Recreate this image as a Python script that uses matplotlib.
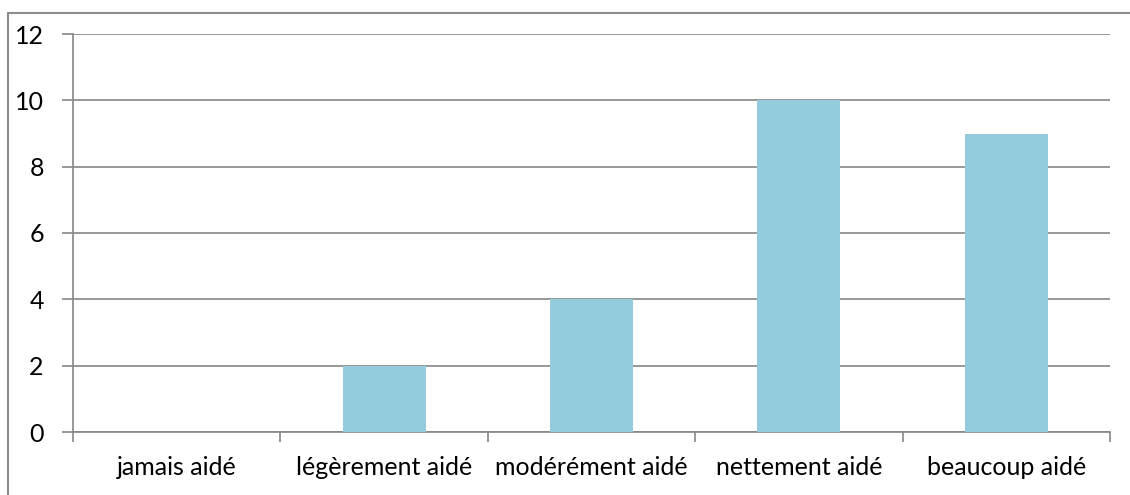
import matplotlib
matplotlib.use("Agg")
import matplotlib.pyplot as plt
from matplotlib.patches import Rectangle

categories = ["jamais aidé", "légèrement aidé", "modérément aidé", "nettement aidé", "beaucoup aidé"]
values = [0, 2, 4, 10, 9]
y_ticks = [0, 2, 4, 6, 8, 10, 12]

plt.rcParams['font.family'] = ['Lato', 'DejaVu Sans']

fig = plt.figure(figsize=(11.3, 4.95), dpi=100)
ax = fig.add_axes([73 / 1130, 1 - 432 / 495, (1110 - 73) / 1130, (432 - 34) / 495])

grid_col = '#868686'
x = list(range(len(categories)))
ax.bar(x, values, width=0.4, color='#93CDDD', zorder=3)

ax.set_xlim(-0.5, len(categories) - 0.5)
ax.set_ylim(0, 12)
ax.set_yticks(y_ticks)
ax.set_xticks(x)
ax.set_xticklabels(categories, fontsize=18)
ax.set_xticks([i - 0.5 for i in range(len(categories) + 1)], minor=True)
ax.tick_params(axis='x', which='major', length=0, pad=17)
ax.tick_params(axis='x', which='minor', length=7, color=grid_col, width=1.2, direction='out')
ax.tick_params(axis='y', length=8, color=grid_col, width=1.2, labelsize=18, pad=13)

ax.yaxis.grid(True, color=grid_col, linewidth=1.2, zorder=0)
ax.set_axisbelow(True)
for s in ['top', 'right']:
    ax.spines[s].set_visible(False)
for s in ['left', 'bottom']:
    ax.spines[s].set_color(grid_col)
    ax.spines[s].set_linewidth(1.2)

# outer chart border (cropped at right and bottom)
fig.patches.append(Rectangle((8 / 1130, -0.05), 1.2, 1 - 13 / 495 + 0.05,
                             transform=fig.transFigure, fill=False,
                             edgecolor='#8c8c8c', linewidth=1.5))

fig.savefig("out.png", dpi=100)
